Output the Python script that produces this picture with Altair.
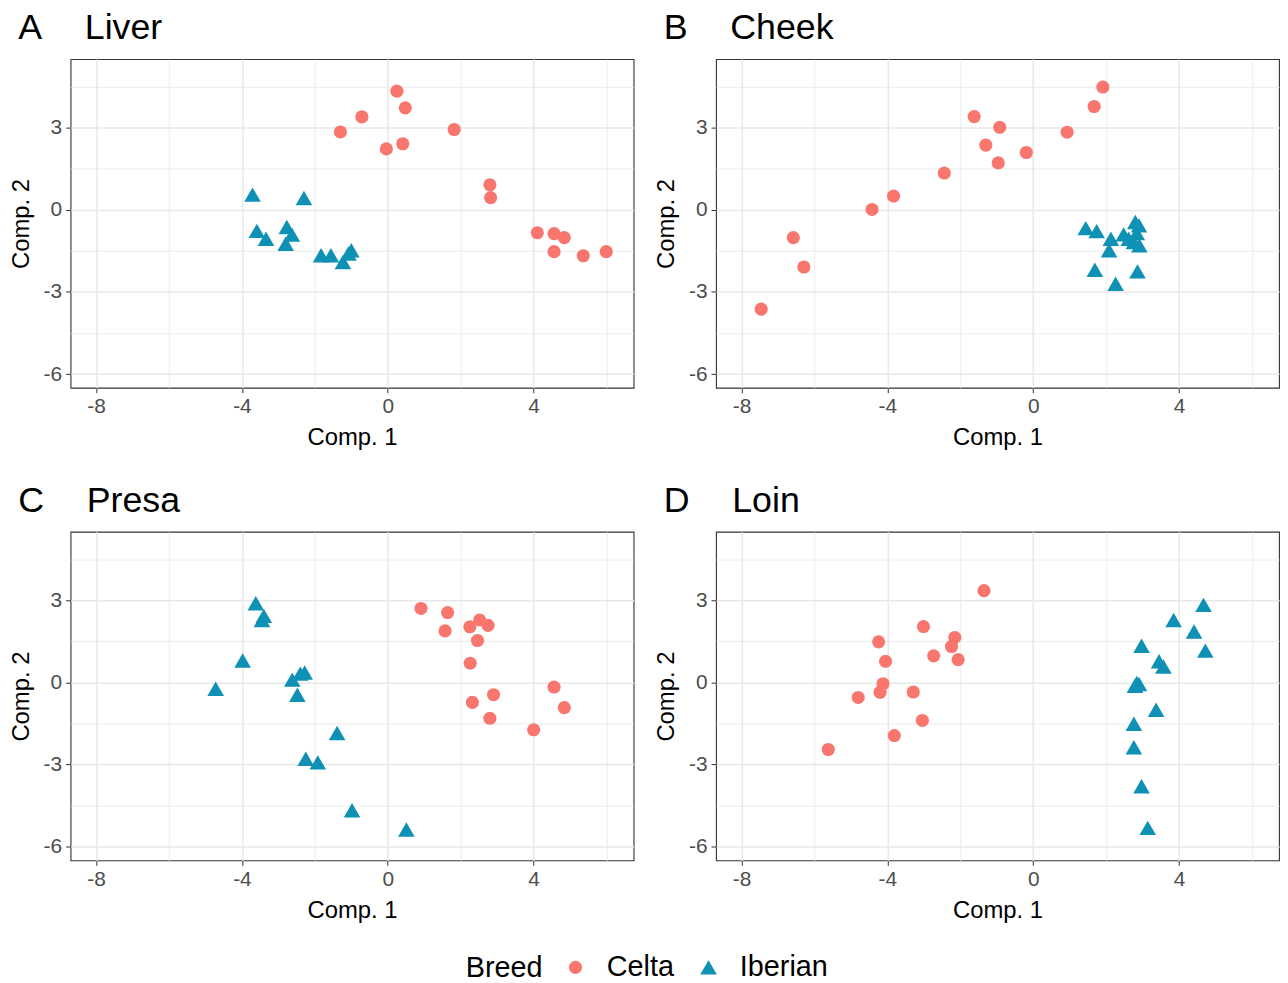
import altair as alt
import pandas as pd

# ---------------- data ----------------
panel_names = ["Liver", "Cheek", "Presa", "Loin"]
panel_letters = ["A", "B", "C", "D"]
breeds = ["Celta", "Iberian"]

liver_celta_x = [0.25, 0.48, -0.71, -1.30, 1.82, -0.04, 0.41, 2.80, 2.82, 4.10, 4.56, 4.84, 4.56, 5.36, 5.99]
liver_celta_y = [4.33, 3.72, 3.39, 2.84, 2.93, 2.22, 2.41, 0.91, 0.44, -0.84, -0.87, -1.02, -1.53, -1.68, -1.53]
liver_iber_x = [-3.71, -2.30, -3.59, -3.34, -2.77, -2.63, -2.80, -1.83, -1.56, -1.23, -1.00, -1.08]
liver_iber_y = [0.55, 0.43, -0.77, -1.06, -0.63, -0.91, -1.24, -1.66, -1.66, -1.91, -1.48, -1.60]

cheek_celta_x = [1.91, 1.67, -1.62, -0.92, 0.93, -1.30, -0.19, -0.96, -2.44, -3.83, -4.42, -6.58, -6.29, -7.46]
cheek_celta_y = [4.48, 3.77, 3.40, 3.01, 2.83, 2.36, 2.09, 1.71, 1.34, 0.50, 0.01, -1.02, -2.09, -3.63]
cheek_iber_x = [1.44, 1.74, 2.13, 2.48, 2.80, 2.84, 2.76, 2.91, 2.08, 1.69, 2.86, 2.26, 2.62, 2.90]
cheek_iber_y = [-0.67, -0.78, -1.06, -0.90, -0.45, -0.85, -1.18, -1.30, -1.48, -2.19, -2.25, -2.70, -1.06, -0.57]

presa_celta_x = [0.91, 1.64, 1.57, 2.25, 2.52, 2.75, 2.46, 2.26, 2.32, 2.90, 2.80, 4.00, 4.56, 4.84]
presa_celta_y = [2.70, 2.55, 1.88, 2.03, 2.28, 2.08, 1.53, 0.70, -0.73, -0.45, -1.31, -1.73, -0.17, -0.92]
presa_iber_x = [-3.62, -3.40, -3.45, -3.98, -4.72, -2.62, -2.40, -2.28, -2.48, -1.39, -2.25, -1.92, -0.98, 0.51]
presa_iber_y = [2.89, 2.43, 2.28, 0.80, -0.23, 0.10, 0.32, 0.36, -0.45, -1.85, -2.79, -2.92, -4.67, -5.37]

loin_celta_x = [-1.35, -3.01, -2.15, -2.24, -2.06, -2.73, -4.24, -4.05, -4.12, -4.20, -3.29, -4.80, -3.04, -3.81, -5.62]
loin_celta_y = [3.35, 2.04, 1.64, 1.31, 0.83, 0.97, 1.48, 0.77, -0.05, -0.36, -0.35, -0.55, -1.39, -1.94, -2.45]
loin_iber_x = [4.67, 3.85, 4.41, 4.72, 2.97, 3.45, 3.57, 2.84, 2.79, 2.90, 3.37, 2.76, 2.76, 2.97, 3.14]
loin_iber_y = [2.83, 2.28, 1.86, 1.16, 1.34, 0.77, 0.58, -0.02, -0.12, -0.06, -1.00, -1.51, -2.37, -3.79, -5.31]

x_ticks = [-8, -6, -4, -2, 0, 2, 4, 6]        # majors every 4, minors between
y_ticks = [-6, -4.5, -3, -1.5, 0, 1.5, 3, 4.5]  # majors every 3, minors between

series = {
    "Liver": (liver_celta_x, liver_celta_y, liver_iber_x, liver_iber_y),
    "Cheek": (cheek_celta_x, cheek_celta_y, cheek_iber_x, cheek_iber_y),
    "Presa": (presa_celta_x, presa_celta_y, presa_iber_x, presa_iber_y),
    "Loin": (loin_celta_x, loin_celta_y, loin_iber_x, loin_iber_y),
}

rows = []
for name, (cx, cy, ix, iy) in series.items():
    rows += [{"panel": name, "Breed": "Celta", "x": a, "y": b} for a, b in zip(cx, cy)]
    rows += [{"panel": name, "Breed": "Iberian", "x": a, "y": b} for a, b in zip(ix, iy)]
df = pd.DataFrame(rows)

FONT = "Liberation Sans"
NB = "\u00a0"

xmaj = "datum.value % 4 == 0"
ymaj = "datum.value % 3 == 0"


def panel(name, letter):
    return (
        alt.Chart(df)
        .transform_filter(alt.datum.panel == name)
        .mark_point(filled=True, opacity=1, strokeWidth=0)
        .encode(
            x=alt.X(
                "x:Q",
                title="Comp. 1",
                scale=alt.Scale(domain=[-8.7, 6.74], nice=False, zero=False),
                axis=alt.Axis(
                    values=x_ticks,
                    labelExpr=xmaj + " ? ('' + datum.value) : ''",
                    tickOpacity={"condition": {"test": xmaj, "value": 1}, "value": 0},
                    gridWidth={"condition": {"test": xmaj, "value": 1.5}, "value": 0.8},
                    titlePadding=9,
                    labelPadding=3,
                ),
            ),
            y=alt.Y(
                "y:Q",
                title="Comp. 2",
                scale=alt.Scale(domain=[-6.5, 5.5], nice=False, zero=False),
                axis=alt.Axis(
                    values=y_ticks,
                    labelExpr=ymaj + " ? ('' + datum.value) : ''",
                    tickOpacity={"condition": {"test": ymaj, "value": 1}, "value": 0},
                    gridWidth={"condition": {"test": ymaj, "value": 1.5}, "value": 0.8},
                    titlePadding=10,
                    labelPadding=4,
                ),
            ),
            color=alt.Color(
                "Breed:N",
                scale=alt.Scale(domain=breeds, range=["#F8766D", "#0F91B5"]),
                legend=alt.Legend(
                    title="Breed",
                    orient="none",
                    legendX=398,
                    legendY=900,
                    direction="horizontal",
                    titleOrient="left",
                ),
            ),
            shape=alt.Shape(
                "Breed:N",
                scale=alt.Scale(domain=breeds, range=["circle", "triangle-up"]),
            ),
            size=alt.Size(
                "Breed:N",
                scale=alt.Scale(domain=breeds, range=[175, 280]),
            ),
        )
        .properties(
            width=567,
            height=331,
            title=alt.TitleParams(
                text=letter + NB * 4 + "\u200a" + name,
                anchor="start",
                dx=9,
                offset=12,
            ),
        )
    )


charts = [panel(n, l) for n, l in zip(panel_names, panel_letters)]

chart = (
    alt.concat(*charts, columns=2, spacing={"row": 32, "column": 19})
    .properties(padding={"top": -2, "left": 0, "right": 0, "bottom": 0})
    .configure(font=FONT)
    .configure_view(stroke="#333333", strokeWidth=1.1, fill="white")
    .configure_axis(
        domain=False,
        grid=True,
        gridColor="#E8E8E8",
        tickColor="#333333",
        tickSize=5,
        labelFont=FONT,
        labelFontSize=21,
        labelColor="#4D4D4D",
        titleFont=FONT,
        titleFontSize=24,
        titleFontWeight="normal",
        titleColor="black",
    )
    .configure_title(
        font=FONT,
        fontSize=36,
        fontWeight="normal",
        color="black",
    )
    .configure_legend(
        titleFont=FONT,
        labelFont=FONT,
        titleFontSize=29,
        labelFontSize=29,
        titleFontWeight="normal",
        titleColor="black",
        labelColor="black",
        labelOffset=17,
        columnPadding=20,
        titlePadding=18,
        symbolStrokeWidth=0,
        symbolOpacity=1,
    )
)

chart.save("out.html", embed_options={"renderer": "svg", "actions": False})
